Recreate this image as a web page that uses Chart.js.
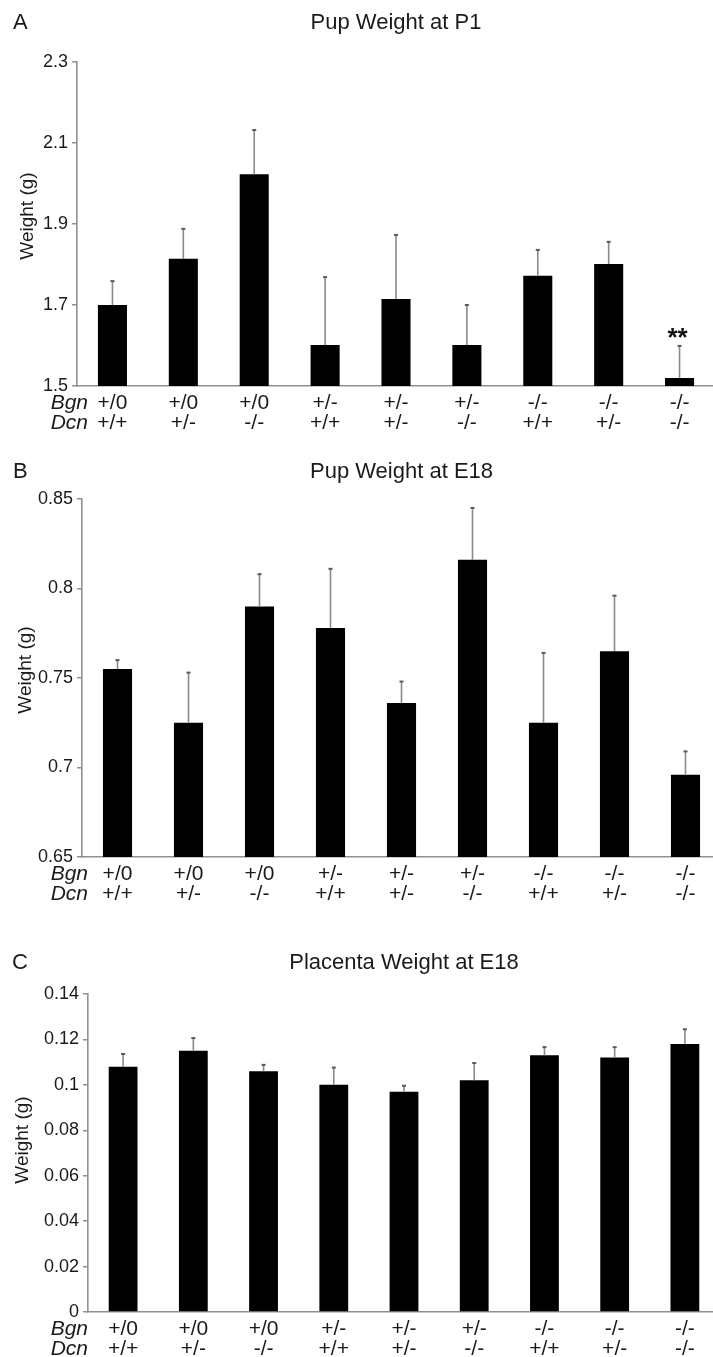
<!DOCTYPE html>
<html><head><meta charset="utf-8">
<script src="https://cdn.jsdelivr.net/npm/chart.js@4.4.1/dist/chart.umd.min.js"></script>
<style>
html,body{margin:0;padding:0;background:#fff;overflow:hidden;width:713px;height:1357px;}
#wrap{position:relative;width:713px;height:1357px;overflow:hidden;background:#fff;}
canvas{position:absolute;left:0;}
</style></head><body>
<div id="wrap">
<canvas id="cA" width="730" height="440" style="top:0px"></canvas>
<canvas id="cB" width="730" height="490" style="top:440px"></canvas>
<canvas id="cC" width="730" height="427" style="top:930px"></canvas>
</div>
<script>
// ---- data ----
const bgnGenotypes = ['+/0','+/0','+/0','+/-','+/-','+/-','-/-','-/-','-/-'];
const dcnGenotypes = ['+/+','+/-','-/-','+/+','+/-','-/-','+/+','+/-','-/-'];

const p1Mean  = [1.700, 1.814, 2.023, 1.601, 1.715, 1.601, 1.772, 1.801, 1.520];
const p1Sem   = [0.059, 0.074, 0.109, 0.168, 0.158, 0.099, 0.064, 0.055, 0.079];
const p1Ticks = [1.5, 1.7, 1.9, 2.1, 2.3];
const p1Marks = ['', '', '', '', '', '', '', '', '**'];

const e18PupMean  = [0.755, 0.725, 0.790, 0.778, 0.736, 0.816, 0.725, 0.765, 0.696];
const e18PupSem   = [0.005, 0.028, 0.018, 0.033, 0.012, 0.029, 0.039, 0.031, 0.013];
const e18PupTicks = [0.65, 0.7, 0.75, 0.8, 0.85];

const placMean  = [0.108, 0.115, 0.106, 0.100, 0.097, 0.102, 0.113, 0.112, 0.118];
const placSem   = [0.0056, 0.0056, 0.0028, 0.0076, 0.0026, 0.0076, 0.0036, 0.0046, 0.0065];
const placTicks = [0, 0.02, 0.04, 0.06, 0.08, 0.1, 0.12, 0.14];

const rowNames = ['Bgn', 'Dcn'];
const yTitle = 'Weight (g)';

// ---- style ----
const FONT = '"Liberation Sans", Arial, Helvetica, sans-serif';
const AXIS = '#909090';
const TXT = '#1a1a1a';

const panels = [
  {id:'cA', letter:'A', title:'Pup Weight at P1', mean:p1Mean, sem:p1Sem, ticks:p1Ticks, marks:p1Marks,
   top:62, bottom:386, left:77, right:715, titleY:23, letterX:13, yTitleX:28, yTitleY:216},
  {id:'cB', letter:'B', title:'Pup Weight at E18', mean:e18PupMean, sem:e18PupSem, ticks:e18PupTicks, marks:null,
   top:59, bottom:417, left:82, right:721, titleY:32, letterX:13, yTitleX:26, yTitleY:230},
  {id:'cC', letter:'C', title:'Placenta Weight at E18', mean:placMean, sem:placSem, ticks:placTicks, marks:null,
   top:64, bottom:382, left:88, right:720, titleY:33, letterX:12, yTitleX:23, yTitleY:210}
];

const LABEL_PAD = 7, LABEL_LH = 20, LABEL_SIZE = 21;

function decor(p){
  return {
    id:'decor_'+p.id,
    afterDatasetsDraw(chart){
      const ctx = chart.ctx, ys = chart.scales.y, area = chart.chartArea;
      const meta = chart.getDatasetMeta(0);
      ctx.save();
      // error bars (upper whisker only)
      meta.data.forEach((el,i)=>{
        const yTop = ys.getPixelForValue(p.mean[i] + p.sem[i]);
        ctx.strokeStyle = '#8a8a8a'; ctx.lineWidth = 1.6;
        ctx.beginPath(); ctx.moveTo(el.x, el.y); ctx.lineTo(el.x, yTop); ctx.stroke();
        ctx.fillStyle = '#5a5a5a';
        ctx.fillRect(el.x - 2, yTop - 1, 4, 2);
        if (p.marks && p.marks[i]) {
          ctx.fillStyle = '#111';
          ctx.font = 'bold 26px ' + FONT;
          ctx.textAlign = 'center'; ctx.textBaseline = 'alphabetic';
          ctx.fillText(p.marks[i], el.x - 2, yTop - 15 + 0.57*26);
        }
      });
      // row names
      ctx.fillStyle = TXT;
      ctx.font = 'italic ' + LABEL_SIZE + 'px ' + FONT;
      ctx.textAlign = 'right'; ctx.textBaseline = 'middle';
      rowNames.forEach((r,k)=>{
        ctx.fillText(r, 88, area.bottom + LABEL_PAD + LABEL_LH/2 + k*LABEL_LH);
      });
      // title
      ctx.font = '22px ' + FONT;
      ctx.textAlign = 'center';
      ctx.fillText(p.title, (area.left + area.right)/2, p.titleY);
      // letter
      ctx.textAlign = 'left';
      ctx.fillText(p.letter, p.letterX, p.titleY);
      // y title
      ctx.save();
      ctx.translate(p.yTitleX, p.yTitleY);
      ctx.rotate(-Math.PI/2);
      ctx.font = '19px ' + FONT;
      ctx.textAlign = 'center'; ctx.textBaseline = 'middle';
      ctx.fillText(yTitle, 0, 0);
      ctx.restore();
      ctx.restore();
    }
  };
}

function makeChart(p){
  const canvas = document.getElementById(p.id);
  const W = canvas.width, H = canvas.height;
  return new Chart(canvas, {
    type:'bar',
    data:{
      labels: bgnGenotypes.map((b,i)=>[b, dcnGenotypes[i]]),
      datasets:[{data:p.mean, backgroundColor:'#000', borderWidth:0, barPercentage:0.41, categoryPercentage:1}]
    },
    options:{
      responsive:false, animation:false, devicePixelRatio:1,
      layout:{padding:{top:p.top, right:W - p.right, left:0, bottom:0}},
      plugins:{legend:{display:false}, tooltip:{enabled:false}, title:{display:false}},
      scales:{
        x:{
          type:'category', offset:true,
          grid:{display:false, drawTicks:false},
          border:{display:true, color:AXIS, width:1.6},
          ticks:{color:TXT, font:{family:FONT, size:LABEL_SIZE, lineHeight:LABEL_LH/LABEL_SIZE}, padding:LABEL_PAD,
                 maxRotation:0, minRotation:0, autoSkip:false},
          afterFit(s){ s.height = H - p.bottom; }
        },
        y:{
          min:p.ticks[0], max:p.ticks[p.ticks.length-1],
          afterBuildTicks(s){ s.ticks = p.ticks.map(v=>({value:v})); },
          grid:{display:true, drawOnChartArea:false, drawTicks:true, tickLength:5, color:AXIS, lineWidth:1.5},
          border:{display:true, color:AXIS, width:1.6},
          ticks:{color:TXT, font:{family:FONT, size:18}, padding:4, callback:(v)=>String(v)},
          afterFit(s){ s.width = p.left; }
        }
      }
    },
    plugins:[decor(p)]
  });
}

panels.forEach(makeChart);
</script>
</body></html>
